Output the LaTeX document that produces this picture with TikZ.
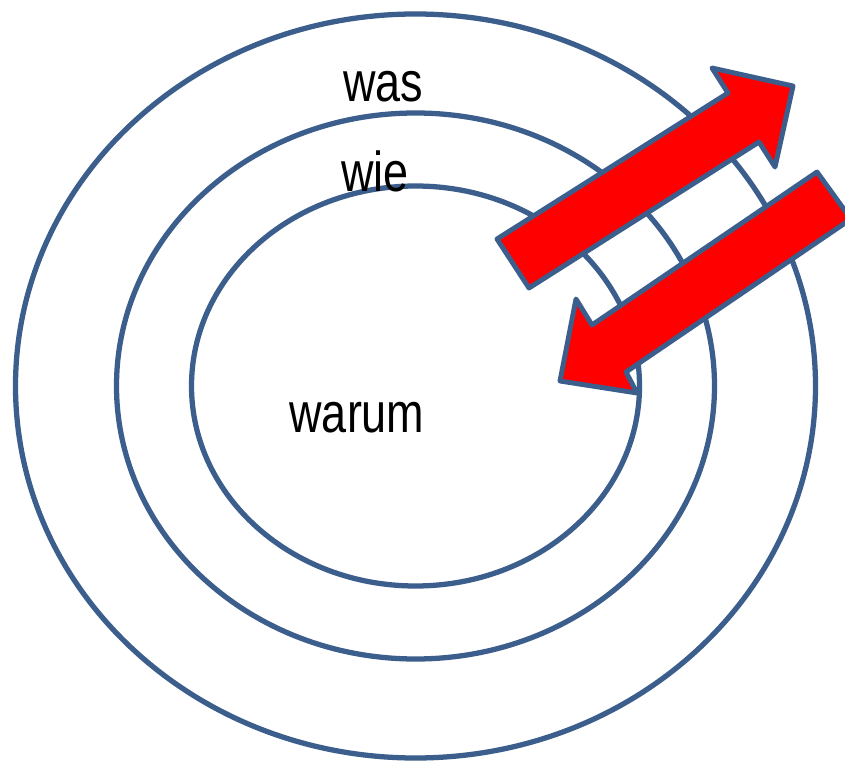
\documentclass[tikz,border=0pt]{standalone}
\usepackage{fontspec}
\setmainfont{Liberation Sans}
\usepackage{tikz}
\definecolor{ringblue}{HTML}{3B5E8C}
\definecolor{arrowred}{HTML}{FF0000}
\tikzset{
  ring/.style={draw=ringblue,line width=3pt},
  blockarrow/.style={draw=ringblue,fill=arrowred,line width=2.8pt,line join=round},
  word/.style={anchor=base,inner sep=0pt,font=\fontsize{32}{36}\selectfont,xscale=0.8,transform shape}
}

\begin{document}
\begin{tikzpicture}[x=0.02cm,y=-0.02cm]
  \clip (0,0) rectangle (845,763);
  \fill[white] (0,0) rectangle (845,763);
  % three rings
  \foreach \rx/\ry in {400/372,299/273,224/200}
    \draw[ring] (415.5,386) ellipse ({\rx} and {\ry});
  \node[word] (was) at (383,102) {was};
  \node[word] (wie) at (375,192) {wie};
  \node[word] (warum) at (357,432) {warum};
  % arrow out
  \draw[blockarrow] (497,239) -- (728,93) -- (712,68) -- (793,86)
    -- (775,167) -- (759,142) -- (529,288) -- cycle;
  % arrow in
  \draw[blockarrow] (851,219) -- (626,372) -- (637,393) -- (560,381)
    -- (576,299) -- (592,325) -- (817,172) -- cycle;
\end{tikzpicture}
\end{document}
